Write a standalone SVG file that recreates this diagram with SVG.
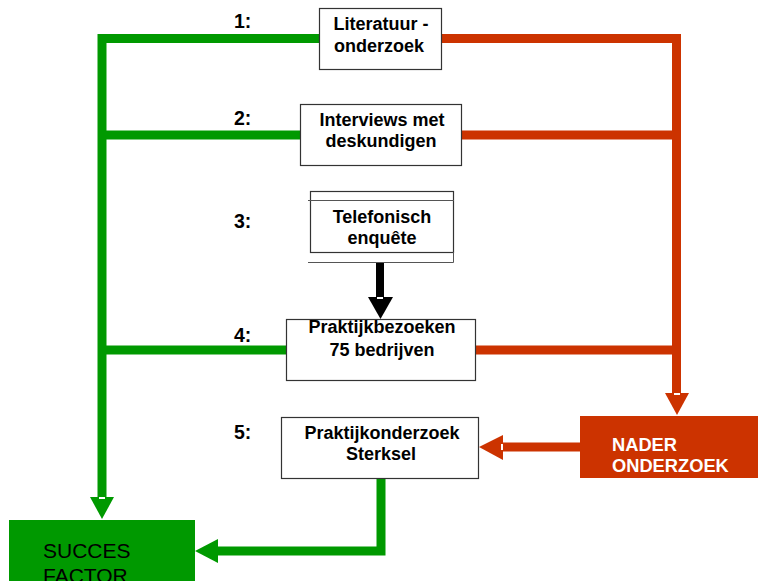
<svg xmlns="http://www.w3.org/2000/svg" width="759" height="581" viewBox="0 0 759 581">
<style>
.box{fill:#fff;stroke:#333;stroke-width:1.2}
.t{font-family:"Liberation Sans",Arial,sans-serif;font-weight:bold;font-size:18px;fill:#000;text-anchor:middle}
.num{font-family:"Liberation Sans",Arial,sans-serif;font-weight:bold;font-size:19.5px;fill:#000}
.g{fill:none;stroke:#009900;stroke-width:9;stroke-linejoin:miter}
.r{fill:none;stroke:#CC3300;stroke-width:9;stroke-linejoin:miter}
</style>
<rect width="759" height="581" fill="#fff"/>
<g id="connectors">
  <path class="g" d="M319,38.5 H102 V498"/>
  <path class="g" d="M300,135 H102"/>
  <path class="g" d="M286,350 H102"/>
  <polygon points="90,497 114,497 102,519" fill="#009900"/>
  <path class="g" d="M381,478 V551 H218"/>
  <polygon points="218,539 218,563 195,551" fill="#009900"/>
  <path class="r" d="M441,38.5 H676.5 V394"/>
  <path class="r" d="M462,135 H676"/>
  <path class="r" d="M476,350 H676"/>
  <polygon points="665,393 689,393 677,415" fill="#CC3300"/>
  <path class="r" d="M580,447 H502"/>
  <polygon points="503,435 503,460 479,447" fill="#CC3300"/>
  <path d="M380,262 V298" stroke="#000" stroke-width="8" fill="none"/>
  <polygon points="368,297 393,297 380.5,319" fill="#000"/>
  <g fill="#fff">
    <rect x="99" y="497" width="6" height="2"/>
    <rect x="674" y="393" width="6" height="2"/>
    <rect x="377" y="297" width="6" height="2"/>
    <rect x="217" y="448" width="2" height="6"/>
    <rect x="501" y="444" width="2" height="6"/>
  </g>
</g>
<g id="n1">
  <rect class="box" x="319.5" y="8.5" width="122" height="61"/>
  <text class="t" x="381" y="30">Literatuur -</text>
  <text class="t" x="379" y="52">onderzoek</text>
</g>
<g id="n2">
  <rect class="box" x="300.5" y="104.5" width="161" height="61"/>
  <text class="t" x="382" y="126">Interviews met</text>
  <text class="t" x="381" y="147">deskundigen</text>
</g>
<g id="n3">
  <rect class="box" x="310.5" y="191.5" width="143" height="61"/>
  <path d="M308,200.5 H454 M308,262.5 H453.5 V252" stroke="#555" stroke-width="1" fill="none"/>
  <text class="t" x="382" y="223">Telefonisch</text>
  <text class="t" x="382" y="244">enquête</text>
</g>
<g id="n4">
  <rect class="box" x="286.5" y="319.5" width="189" height="61"/>
  <text class="t" x="382" y="333">Praktijkbezoeken</text>
  <text class="t" x="382" y="356">75 bedrijven</text>
</g>
<g id="n5">
  <rect class="box" x="281.5" y="417.5" width="197" height="61"/>
  <text class="t" x="382" y="439">Praktijkonderzoek</text>
  <text class="t" x="381" y="460">Sterksel</text>
</g>
<g id="nader">
  <rect x="580" y="416" width="178" height="62" fill="#CC3300"/>
  <text x="612" y="451" font-family="Liberation Sans,Arial,sans-serif" font-weight="bold" font-size="18.3" fill="#fff">NADER</text>
  <text x="612" y="472" font-family="Liberation Sans,Arial,sans-serif" font-weight="bold" font-size="18.3" fill="#fff">ONDERZOEK</text>
</g>
<g id="succes">
  <rect x="9" y="520" width="186" height="70" fill="#009900"/>
  <text x="43" y="558" font-family="Liberation Sans,Arial,sans-serif" font-size="21" fill="#000">SUCCES</text>
  <text x="43" y="583" font-family="Liberation Sans,Arial,sans-serif" font-size="21" fill="#000">FACTOR</text>
</g>
<g id="labels">
  <text class="num" x="234" y="28">1:</text>
  <text class="num" x="234" y="125">2:</text>
  <text class="num" x="234" y="228">3:</text>
  <text class="num" x="234" y="342">4:</text>
  <text class="num" x="234" y="439">5:</text>
</g>
</svg>
